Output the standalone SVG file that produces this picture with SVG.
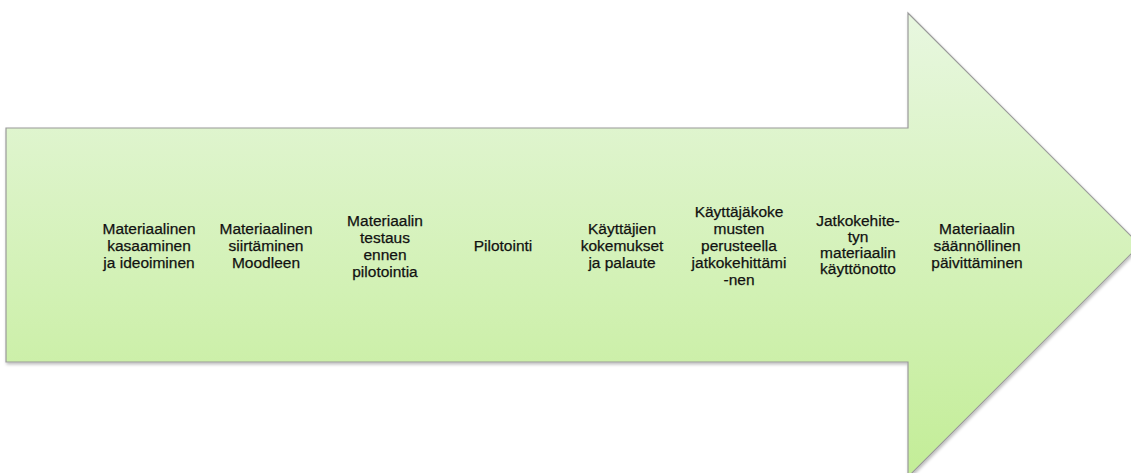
<svg xmlns="http://www.w3.org/2000/svg" width="1131" height="473" viewBox="0 0 1131 473">
<style>
.lbl{font-family:"Liberation Sans",Arial,sans-serif;font-size:15.5px;fill:#111;stroke:#111;stroke-width:0.25;text-anchor:middle}
</style>
<defs>
<linearGradient id="g" x1="0" y1="13" x2="0" y2="477" gradientUnits="userSpaceOnUse">
<stop offset="0" stop-color="#e8f7e0"/>
<stop offset="1" stop-color="#c3ed97"/>
</linearGradient>
<filter id="sh" x="-5%" y="-5%" width="110%" height="110%">
<feDropShadow dx="1" dy="2" stdDeviation="1.5" flood-color="#000" flood-opacity="0.25"/>
</filter>
</defs>
<g id="arrow">
<polygon points="6,128 908,128 908,13 1140,245 908,477 908,362 6,362" fill="url(#g)" stroke="#9a9a9a" stroke-width="1.2" filter="url(#sh)"/>
</g>
<g id="connectors"/>
<g id="n1"><text class="lbl" x="149" y="234">Materiaalinen</text><text class="lbl" x="149" y="251">kasaaminen</text><text class="lbl" x="149" y="268">ja ideoiminen</text></g>
<g id="n2"><text class="lbl" x="266" y="234">Materiaalinen</text><text class="lbl" x="266" y="251">siirtäminen</text><text class="lbl" x="266" y="268">Moodleen</text></g>
<g id="n3"><text class="lbl" x="385" y="225.5">Materiaalin</text><text class="lbl" x="385" y="242.5">testaus</text><text class="lbl" x="385" y="259.5">ennen</text><text class="lbl" x="385" y="276.5">pilotointia</text></g>
<g id="n4"><text class="lbl" x="503" y="251">Pilotointi</text></g>
<g id="n5"><text class="lbl" x="622" y="234">Käyttäjien</text><text class="lbl" x="622" y="251">kokemukset</text><text class="lbl" x="622" y="268">ja palaute</text></g>
<g id="n6"><text class="lbl" x="739" y="217">Käyttäjäkoke</text><text class="lbl" x="739" y="234">musten</text><text class="lbl" x="739" y="251">perusteella</text><text class="lbl" x="739" y="268">jatkokehittämi</text><text class="lbl" x="739" y="285">-nen</text></g>
<g id="n7"><text class="lbl" x="858" y="226">Jatkokehite-</text><text class="lbl" x="858" y="242">tyn</text><text class="lbl" x="858" y="258">materiaalin</text><text class="lbl" x="858" y="274">käyttönotto</text></g>
<g id="n8"><text class="lbl" x="977" y="234">Materiaalin</text><text class="lbl" x="977" y="251">säännöllinen</text><text class="lbl" x="977" y="268">päivittäminen</text></g>
</svg>
